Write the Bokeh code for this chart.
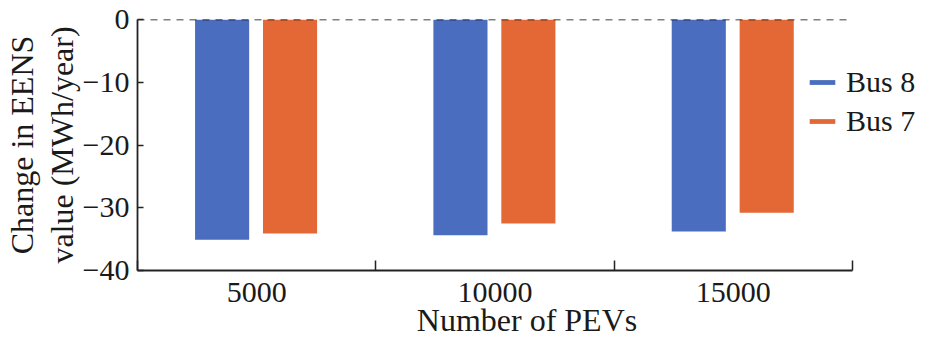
from bokeh.plotting import figure
from bokeh.models import ColumnDataSource, FixedTicker, Legend, LegendItem, Range1d
from bokeh.embed import file_html
from bokeh.resources import INLINE

categories = ["5000", "10000", "15000"]
bus8 = [-35.1, -34.4, -33.8]
bus7 = [-34.1, -32.5, -30.8]
y_ticks = [0, -10, -20, -30, -40]

BLUE = "#4A6DBF"
ORANGE = "#E36835"
FONT = "Liberation Serif"

W, H = 916, 340
LEFT, TOP, BOTTOM = 137, 19, 69
SLOTS_PX = 715              # pixels taken by the three category slots
n = len(categories)
x_end = n * (W - LEFT) / SLOTS_PX   # extra room on the right for the legend

idx = list(range(n))
src8 = ColumnDataSource(dict(x=[i + 0.5 - 0.145 for i in idx], top=[0] * n, bottom=bus8))
src7 = ColumnDataSource(dict(x=[i + 0.5 + 0.14 for i in idx], top=[0] * n, bottom=bus7))

p = figure(width=W, height=H, output_backend="svg", toolbar_location=None,
           x_range=Range1d(0, x_end), y_range=Range1d(-40, 0),
           min_border_left=LEFT, min_border_right=0, min_border_top=TOP, min_border_bottom=BOTTOM)
p.outline_line_color = None
p.grid.grid_line_color = None

r8 = p.vbar(x="x", top="top", bottom="bottom", width=0.227, source=src8, fill_color=BLUE, line_color=None)
r7 = p.vbar(x="x", top="top", bottom="bottom", width=0.227, source=src7, fill_color=ORANGE, line_color=None)

# dashed zero line across the category slots
p.segment(x0=[0], x1=[n], y0=[0], y1=[0], line_color="black", line_width=1.5, line_dash="7 6")

# x axis
p.xaxis.bounds = (0, n)
p.xaxis.ticker = FixedTicker(ticks=[i + 0.5 for i in idx], minor_ticks=list(range(n + 1)))
p.xaxis.major_label_overrides = {i + 0.5: c for i, c in zip(idx, categories)}
p.xaxis.major_tick_in = 0
p.xaxis.major_tick_out = 0
p.xaxis.minor_tick_in = 10
p.xaxis.minor_tick_out = 0
p.xaxis.minor_tick_line_color = "#222222"
p.xaxis.minor_tick_line_width = 1.5
p.xaxis.axis_line_color = "#222222"
p.xaxis.axis_line_width = 1.8
p.xaxis.axis_label = "Number of PEVs"
p.xaxis.axis_label_text_font = FONT
p.xaxis.axis_label_text_font_size = "32px"
p.xaxis.axis_label_text_font_style = "normal"
p.xaxis.axis_label_text_color = "#1a1a1a"
p.xaxis.axis_label_standoff = -3
p.xaxis.major_label_text_font = FONT
p.xaxis.major_label_text_font_size = "30px"
p.xaxis.major_label_text_color = "#1a1a1a"
p.xaxis.major_label_standoff = 12

# y axis
p.yaxis.ticker = FixedTicker(ticks=y_ticks)
p.yaxis.major_tick_in = 6
p.yaxis.major_tick_out = 0
p.yaxis.minor_tick_line_color = None
p.yaxis.major_tick_line_color = "#222222"
p.yaxis.major_tick_line_width = 1.5
p.yaxis.axis_line_color = "#222222"
p.yaxis.axis_line_width = 1.8
p.yaxis.major_label_text_font = FONT
p.yaxis.major_label_text_font_size = "30px"
p.yaxis.major_label_text_color = "#1a1a1a"
p.yaxis.major_label_standoff = 8
p.yaxis.axis_label = "Change in EENS\nvalue (MWh/year)"
p.yaxis.axis_label_text_font = FONT
p.yaxis.axis_label_text_font_size = "32px"
p.yaxis.axis_label_text_font_style = "normal"
p.yaxis.axis_label_text_color = "#1a1a1a"
p.yaxis.axis_label_text_line_height = 1.1
p.yaxis.axis_label_standoff = 0

legend = Legend(items=[LegendItem(label="Bus 8", renderers=[r8]),
                       LegendItem(label="Bus 7", renderers=[r7])],
                location=(669, 132), orientation="vertical",
                label_text_font=FONT, label_text_font_size="30px", label_text_color="#1a1a1a",
                glyph_width=32, glyph_height=6, label_height=30, label_standoff=8,
                spacing=5, padding=0, margin=0,
                background_fill_alpha=0, border_line_color=None)
p.add_layout(legend, "center")

open("out.html", "w").write(file_html(p, INLINE))
